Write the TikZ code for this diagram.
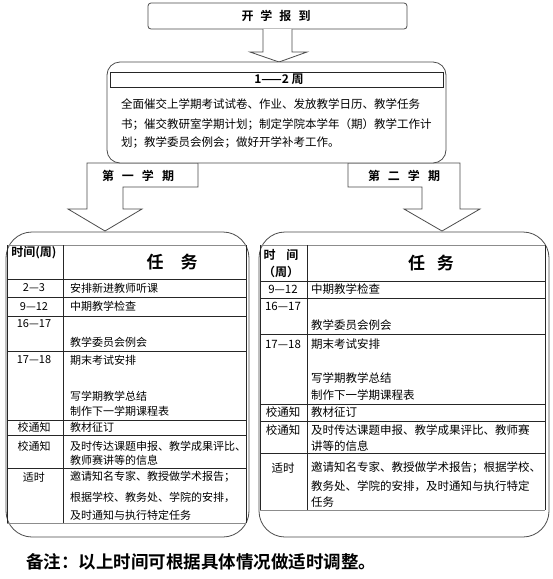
\documentclass[tikz,border=0pt]{standalone}
\usepackage{fontspec}
\setmainfont{Noto Sans CJK SC}[BoldFont = {Noto Sans CJK SC Bold}]
\tikzset{
    frame/.style = {draw = black!70, line width = 0.8pt},
    rule/.style = {draw = black!85, line width = 0.6pt},
    faint/.style = {draw = black!45, line width = 0.6pt},
    cell/.style = {anchor = west, inner sep = 0pt},
    head/.style = {inner sep = 0pt, font = \bfseries\fontsize{12}{14}\selectfont}
}
\begin{document}
\begin{tikzpicture}[x = 1pt, y = -1pt]
    \useasboundingbox[fill = white] (0,0) rectangle (553,579);
    \begin{scope}
        \draw[style = frame, rounded corners = 3pt] (148,3) rectangle (407,29);
        \node[head] (report) at (276,16) {开\hspace{7pt}学\hspace{7pt}报\hspace{7pt}到};
        \draw[style = frame, fill = white] (263,29) -- (263,52) -- (250,52) -- (279,62) -- (307,52) -- (292,52) -- (292,29);
        \draw[style = frame, fill = white] (87,163) -- (198,163) -- (198,187) -- (123,187) -- (123,209) -- (142,209) -- (105,231) -- (68,209) -- (87,209) -- cycle;
        \draw[style = frame, fill = white] (460,163) -- (348,163) -- (348,187) -- (422,187) -- (422,209) -- (404,209) -- (442,231) -- (480,209) -- (460,209) -- cycle;
        \node[head] (term1) at (138,176) {第\hspace{8pt}一\hspace{8pt}学\hspace{8pt}期};
        \node[head] (term2) at (404,176) {第\hspace{8pt}二\hspace{8pt}学\hspace{8pt}期};
    \end{scope}
    \begin{scope}[every node/.append style = {font = \fontsize{11.5}{13}\selectfont}]
        \draw[style = frame, fill = white, rounded corners = 13pt] (107,62) rectangle (446,163);
        \draw[style = rule] (110,72) rectangle (443,87);
        \node[head] (weeks) at (279,79.5) {1——2 周};
        \node[cell] (start1) at (121,104) {全面催交上学期考试试卷、作业、发放教学日历、教学任务};
        \node[cell] (start2) at (121,124) {书；催交教研室学期计划；制定学院本学年（期）教学工作计};
        \node[cell] (start3) at (121,143) {划；教学委员会例会；做好开学补考工作。};
    \end{scope}
    \begin{scope}[every node/.append style = {font = \fontsize{11}{13}\selectfont}]
        \draw[style = frame, rounded corners = 26pt] (6,232) rectangle (249,537);
        \foreach \y in {279, 297, 316, 351, 420, 435, 468} {
            \draw[style = rule] (7,\y) -- (246,\y);
        }
        \draw[style = faint] (7,245) -- (246,245);
        \draw[style = faint] (7,523) -- (246,523);
        \foreach \x in {7, 63, 246} {
            \draw[style = rule] (\x,245) -- (\x,523);
        }
        \node[head] (ltime) at (34,253) {时间(周)};
        \node[head, font = \bfseries\fontsize{17}{19}\selectfont] (ltask) at (172,262) {任\hspace{17pt}务};
        \foreach \y/\t in {288/2—3, 306.5/9—12, 324/16—17, 360/17—18, 427.5/校通知, 446/校通知, 477/适时} {
            \node[inner sep = 0pt] (lw-\y) at (34,\y) {\t};
        }
        \foreach \y/\t in {288/安排新进教师听课, 306.5/中期教学检查, 342/教学委员会例会, 360/期末考试安排, 396/写学期教学总结, 411/制作下一学期课程表, 427.5/教材征订, 446/及时传达课题申报、教学成果评比、, 460/教师赛讲等的信息, 477/邀请知名专家、教授做学术报告；, 497/根据学校、教务处、学院的安排，, 515/及时通知与执行特定任务} {
            \node[cell] (lt-\y) at (70,\y) {\t};
        }
    \end{scope}
    \begin{scope}[every node/.append style = {font = \fontsize{11.5}{13}\selectfont}]
        \draw[style = frame, rounded corners = 26pt] (259,232) rectangle (549,537);
        \foreach \y in {281, 298, 334, 404, 421, 453} {
            \draw[style = rule] (260,\y) -- (545,\y);
        }
        \draw[style = faint] (260,245) -- (545,245);
        \draw[style = faint] (260,510) -- (545,510);
        \foreach \x in {260, 307, 545} {
            \draw[style = rule] (\x,245) -- (\x,510);
        }
        \node[head] (rtime) at (281,255) {时\hspace{11pt}间};
        \node[head] (rweek) at (281,272) {（周）};
        \node[head, font = \bfseries\fontsize{17}{19}\selectfont] (rtask) at (431,263) {任\hspace{12pt}务};
        \foreach \y/\t in {289.5/9—12, 306/16—17, 344/17—18, 412.5/校通知, 430/校通知, 468/适时} {
            \node[inner sep = 0pt] (rw-\y) at (283,\y) {\t};
        }
        \foreach \y/\t in {289.5/中期教学检查, 325/教学委员会例会, 344/期末考试安排, 378/写学期教学总结, 395/制作下一学期课程表, 412.5/教材征订, 430/及时传达课题申报、教学成果评比、教师赛, 446/讲等的信息, 468/邀请知名专家、教授做学术报告；根据学校、, 486/教务处、学院的安排，及时通知与执行特定, 502/任务} {
            \node[cell] (rt-\y) at (311,\y) {\t};
        }
    \end{scope}
    \node[cell, font = \bfseries\fontsize{17.5}{20}\selectfont] (remark) at (26,562) {备注：以上时间可根据具体情况做适时调整。};
\end{tikzpicture}
\end{document}
